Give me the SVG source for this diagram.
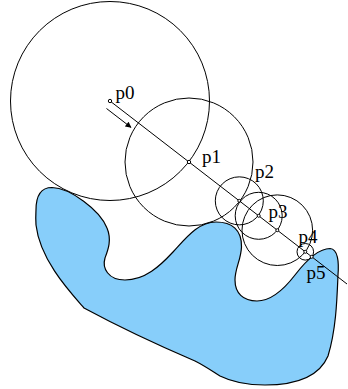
<svg xmlns="http://www.w3.org/2000/svg" width="348" height="389" viewBox="0 0 348 389">
  <style>
    .c { fill: none; stroke: #000; stroke-width: 1; }
    .pt { fill: #fff; stroke: #000; stroke-width: 1; }
    .lbl { font-family: "Liberation Serif", "Times New Roman", serif; font-size: 19px; fill: #000; }
    .shape { fill: #87cefa; stroke: #000; stroke-width: 1.2; }
  </style>
  <defs>
    <marker id="ah" viewBox="0 0 10 10" refX="9" refY="5" markerWidth="7" markerHeight="6" markerUnits="userSpaceOnUse" orient="auto">
      <path d="M0,0 L10,5 L0,10 Z" fill="#000"/>
    </marker>
  </defs>
  <g id="surface">
    <path class="shape" d="M 36,210 C 36,195 42,187.5 52,187.5 C 70,188 100,210 107,228 C 112,240 108,250 105,258 C 102,268 108,280 125,280 C 145,280 160,266 173,252 C 186,238 198,222 216,222 C 232,222 242,230 241.5,247 C 241,260 235,268 235,280 C 235,293 243,301 257,301 C 272,301 285,288 295,275 C 305,262 318,248.5 330,248.5 C 338,249 339,262 338,275 C 337,300 336,330 328,356 C 320,375 300,385 265,385 C 245,385 232,382 220,376 C 212,371 205,366 195,361 C 160,346 110,322 84,308 C 70,292 40,260 36,225 C 35.5,218 35.8,214 36,210 Z"/>
  </g>
  <g id="connectors">
    <line class="c" x1="110" y1="101" x2="347" y2="284"/>
    <line class="c" x1="106.5" y1="108.5" x2="131" y2="127.4" marker-end="url(#ah)"/>
  </g>
  <g id="p0">
    <circle class="c" cx="110" cy="101" r="99.5"/>
    <circle class="pt" cx="110" cy="101" r="1.7"/>
    <text class="lbl" x="115.5" y="99">p0</text>
  </g>
  <g id="p1">
    <circle class="c" cx="189" cy="162" r="64"/>
    <circle class="pt" cx="189" cy="162" r="1.7"/>
    <text class="lbl" x="202" y="163">p1</text>
  </g>
  <g id="p2">
    <circle class="c" cx="239.3" cy="200.85" r="24"/>
    <circle class="pt" cx="239.3" cy="200.85" r="1.5"/>
    <text class="lbl" x="255" y="178">p2</text>
  </g>
  <g id="p3">
    <circle class="c" cx="258.7" cy="215.8" r="23.5"/>
    <circle class="pt" cx="258.7" cy="215.8" r="1.5"/>
    <text class="lbl" x="268.5" y="218">p3</text>
  </g>
  <g id="p3b">
    <circle class="c" cx="277.3" cy="230.2" r="35.3"/>
    <circle class="pt" cx="277.3" cy="230.2" r="1.5"/>
  </g>
  <g id="p4">
    <circle class="c" cx="305.3" cy="251.8" r="8.3"/>
    <circle class="pt" cx="305.3" cy="251.8" r="1.5"/>
    <text class="lbl" x="298.5" y="243">p4</text>
  </g>
  <g id="p5">
    <circle class="pt" cx="311.7" cy="256.8" r="1.5"/>
    <text class="lbl" x="306.5" y="279">p5</text>
  </g>
</svg>
